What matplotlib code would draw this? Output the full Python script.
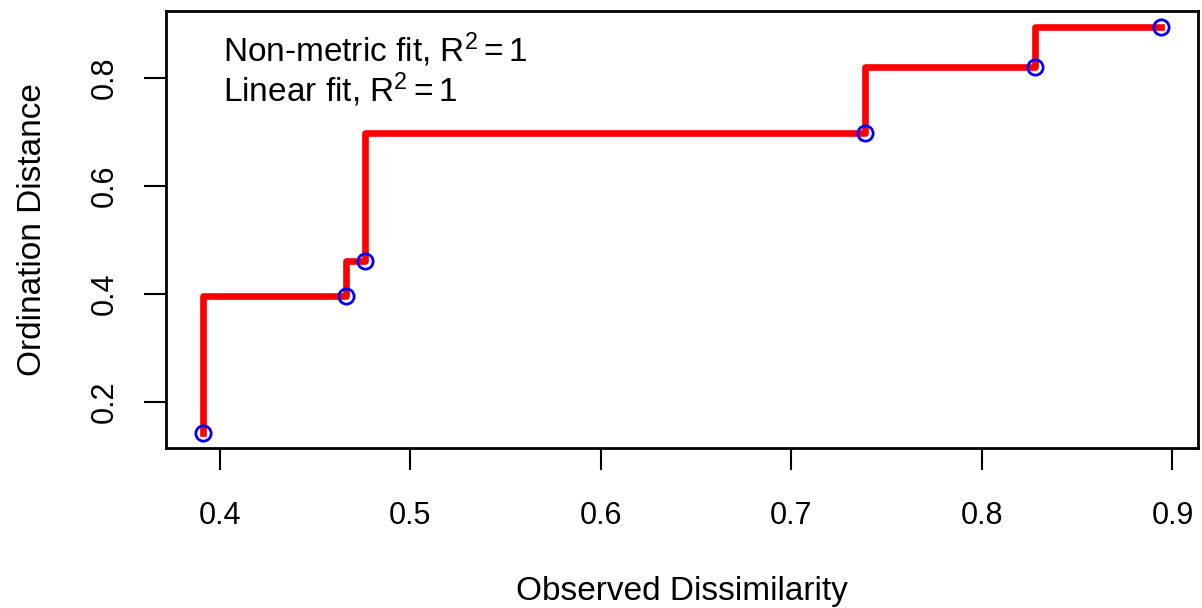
import numpy as np
import matplotlib.pyplot as plt

plt.rcParams['font.family'] = ['Liberation Sans', 'DejaVu Sans']
plt.rcParams['mathtext.fontset'] = 'custom'
plt.rcParams['mathtext.rm'] = 'Liberation Sans'
plt.rcParams['mathtext.it'] = 'Liberation Sans'

# stressplot values
observed = [0.391, 0.4664, 0.4761, 0.7386, 0.8278, 0.8938]
ordination = [0.143, 0.3965, 0.4612, 0.6972, 0.8203, 0.8943]
xticks = [0.4, 0.5, 0.6, 0.7, 0.8, 0.9]
yticks = [0.2, 0.4, 0.6, 0.8]
r2_nonmetric = 1
r2_linear = 1

fig = plt.figure(figsize=(12.02, 6.08), dpi=100)
ax = fig.add_axes([166 / 1202, 1 - 448 / 608, 1032 / 1202, 437 / 608])

ax.step(observed, ordination, where="pre", color="red", lw=4.8, zorder=2)
ax.plot(observed, ordination, "o", mfc="none", mec="blue", ms=11, mew=2, zorder=3)

ax.set_xlim(0.3717, 0.9134)
ax.set_ylim(0.1155, 0.923)
ax.set_xticks(xticks)
ax.set_yticks(yticks)
ax.set_xticklabels([f"{v:.1f}" for v in xticks])
ax.set_yticklabels([f"{v:.1f}" for v in yticks], rotation=90, va="center")
ax.tick_params(axis="x", pad=23)
ax.tick_params(axis="y", pad=18)
ax.tick_params(length=15.5, width=1.5, labelsize=22, direction="out")
for s in ax.spines.values():
    s.set_linewidth(2)

ax.set_xlabel("Observed Dissimilarity", fontsize=24, labelpad=32)
ax.set_ylabel("Ordination Distance", fontsize=24, labelpad=30)

ax.text(0.055, 0.955, f"Non-metric fit, R$^2 = {r2_nonmetric}$\nLinear fit, R$^2 = {r2_linear}$",
        transform=ax.transAxes, fontsize=24, va="top", ha="left", linespacing=1.05)

fig.savefig("out.png", dpi=100)
